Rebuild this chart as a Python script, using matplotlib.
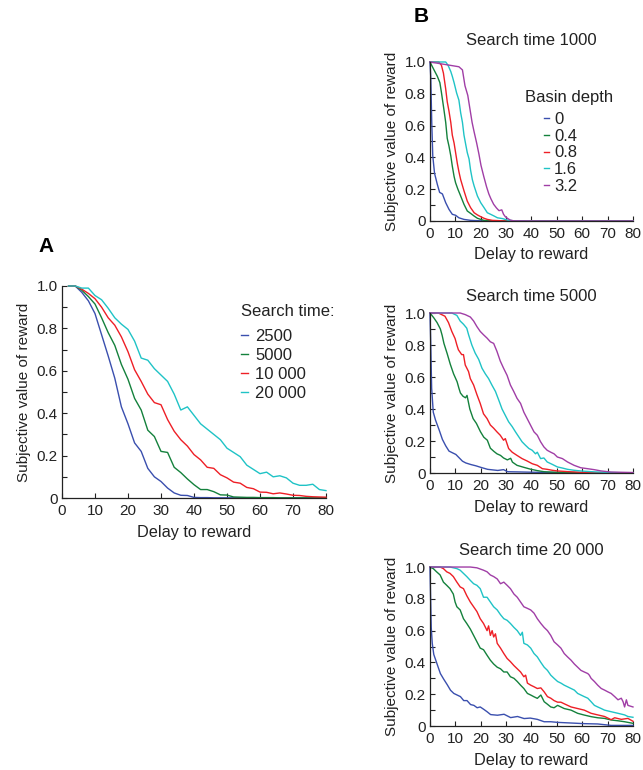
import matplotlib
matplotlib.use("Agg")
import matplotlib.pyplot as plt
from matplotlib.ticker import MultipleLocator, FixedLocator, FixedFormatter

plt.rcParams['font.family'] = ['Liberation Sans', 'DejaVu Sans']

# ---------------- Panel A data ----------------
a_delay = [2, 4, 6, 8, 10, 12, 14, 16, 18, 20, 22, 24, 26, 28, 30, 32, 34, 36, 38, 40,
           42, 44, 46, 48, 50, 52, 54, 56, 58, 60, 62, 64, 66, 68, 70, 72, 74, 76, 78, 80]
a_labels = ["2500", "5000", "10 000", "20 000"]
a_2500 = [1.0, 1.0, 0.97, 0.93, 0.87, 0.77, 0.67, 0.565, 0.43, 0.35, 0.26, 0.22, 0.14, 0.10, 0.078, 0.047, 0.024, 0.013, 0.012, 0.003,
          0.002, 0.002, 0.001, 0.001, 0.001, 0.001, 0.001, 0, 0, 0, 0, 0, 0, 0, 0, 0, 0, 0, 0, 0]
a_5000 = [1.0, 1.0, 0.98, 0.95, 0.915, 0.85, 0.78, 0.72, 0.63, 0.56, 0.47, 0.415, 0.32, 0.29, 0.22, 0.215, 0.145, 0.12, 0.09, 0.063,
          0.04, 0.04, 0.03, 0.015, 0.014, 0.005, 0.004, 0.003, 0.003, 0.002, 0.002, 0.002, 0.001, 0.001, 0.001, 0.001, 0.001, 0.001, 0.001, 0.001]
a_10000 = [1.0, 1.0, 0.985, 0.965, 0.94, 0.90, 0.85, 0.815, 0.76, 0.69, 0.605, 0.55, 0.49, 0.45, 0.44, 0.37, 0.315, 0.275, 0.245, 0.205,
           0.18, 0.145, 0.14, 0.11, 0.095, 0.075, 0.07, 0.05, 0.044, 0.028, 0.027, 0.02, 0.024, 0.019, 0.013, 0.012, 0.008, 0.006, 0.005, 0.004]
a_20000 = [1.0, 1.0, 0.99, 0.99, 0.955, 0.935, 0.895, 0.85, 0.82, 0.795, 0.74, 0.66, 0.65, 0.61, 0.58, 0.55, 0.49, 0.415, 0.43, 0.39,
           0.35, 0.325, 0.30, 0.275, 0.235, 0.215, 0.195, 0.155, 0.135, 0.115, 0.122, 0.10, 0.105, 0.095, 0.07, 0.06, 0.06, 0.065, 0.04, 0.035]

# ---------------- Panel B data ----------------
b_titles = ["Search time 1000", "Search time 5000", "Search time 20 000"]
b_labels = ["0", "0.4", "0.8", "1.6", "3.2"]

# Search time 1000
b1_d0_x = [0, 0.3, 0.7, 1.1, 1.8, 2.9, 3.8, 4.9, 6.2, 7.5, 8.8, 10.1, 11.4, 13.4, 16, 20, 30, 40, 50, 60, 70, 80]
b1_d0_y = [1.0, 0.91, 0.62, 0.41, 0.30, 0.23, 0.18, 0.17, 0.115, 0.073, 0.042, 0.036, 0.02, 0.01, 0.004, 0.001, 0, 0, 0, 0, 0, 0]
b1_d04_x = [0, 1.6, 2.9, 3.9, 4.5, 5.5, 6.2, 6.8, 7.5, 8.2, 8.8, 9.5, 10.1, 11, 12.1, 13.4, 14.7, 16, 17.4, 18.7, 20, 21.3, 24, 30, 40, 50, 60, 70, 80]
b1_d04_y = [1.0, 0.95, 0.91, 0.87, 0.81, 0.70, 0.62, 0.52, 0.47, 0.41, 0.345, 0.28, 0.24, 0.20, 0.157, 0.105, 0.063, 0.048, 0.031, 0.017, 0.01, 0.004, 0.001, 0, 0, 0, 0, 0, 0]
b1_d08_x = [0, 3.5, 4.5, 5.3, 6.2, 6.8, 7.5, 8.2, 8.8, 9.5, 10.1, 10.8, 11.4, 12.1, 13.4, 14.7, 16, 17.4, 18.7, 20, 21.3, 22.6, 24.6, 30, 40, 50, 60, 70, 80]
b1_d08_y = [1.0, 1.0, 0.98, 0.93, 0.83, 0.75, 0.69, 0.62, 0.54, 0.49, 0.43, 0.36, 0.31, 0.26, 0.19, 0.125, 0.084, 0.052, 0.038, 0.027, 0.017, 0.01, 0.004, 0, 0, 0, 0, 0, 0]
b1_d16_x = [0, 6.2, 7.1, 8.2, 8.8, 9.5, 10.5, 11.4, 12.1, 12.8, 13.4, 14.1, 14.7, 15.4, 16, 16.7, 17.4, 18.7, 20, 21.3, 22.6, 23.9, 25.3, 26.6, 28.6, 30.5, 33, 40, 50, 60, 70, 80]
b1_d16_y = [1.0, 1.0, 0.98, 0.94, 0.91, 0.87, 0.805, 0.76, 0.68, 0.62, 0.54, 0.48, 0.43, 0.39, 0.32, 0.26, 0.22, 0.157, 0.115, 0.084, 0.052, 0.042, 0.031, 0.02, 0.015, 0.006, 0.001, 0, 0, 0, 0, 0]
b1_d32_x = [0, 11.4, 12.8, 13.8, 14.9, 15.8, 16.6, 17.4, 18.4, 19.3, 20.1, 21.2, 22.3, 23.2, 24.0, 25.1, 26.2, 27.2, 28.3, 29.0, 29.7, 30.5, 31.6, 33, 40, 50, 60, 70, 80]
b1_d32_y = [1.0, 0.97, 0.95, 0.85, 0.79, 0.70, 0.62, 0.56, 0.49, 0.42, 0.35, 0.28, 0.215, 0.17, 0.14, 0.105, 0.082, 0.065, 0.07, 0.042, 0.027, 0.017, 0.006, 0.001, 0, 0, 0, 0, 0]

# Search time 5000
b2_d0_x = [0, 0.26, 0.66, 1.3, 2.2, 3.6, 4.9, 6.2, 7.5, 8.9, 10.2, 11.5, 12.8, 14.1, 16.1, 18.1, 20.1, 22.7, 26.7, 29, 30.6, 34.3, 40, 50, 60, 70, 80]
b2_d0_y = [1.0, 0.84, 0.53, 0.38, 0.33, 0.27, 0.21, 0.17, 0.137, 0.126, 0.116, 0.095, 0.074, 0.063, 0.053, 0.045, 0.035, 0.023, 0.016, 0.021, 0.008, 0.007, 0.005, 0.003, 0.002, 0.001, 0.001]
b2_d04_x = [0, 1.5, 2.8, 4.1, 4.8, 5.5, 6.8, 8.0, 9.3, 10.7, 11.4, 12.0, 13.0, 14.0, 14.6, 15.7, 17.0, 18.3, 19.9, 21.2, 22.6, 23.8, 25.2, 26.4, 27.8, 29.0, 30.5, 31.8, 32.5, 34.3, 37.1, 39.6, 42.3, 45.0, 49, 55, 60, 70, 80]
b2_d04_y = [1.0, 0.97, 0.94, 0.90, 0.86, 0.81, 0.745, 0.68, 0.62, 0.57, 0.53, 0.50, 0.48, 0.47, 0.485, 0.40, 0.34, 0.31, 0.258, 0.224, 0.205, 0.155, 0.135, 0.12, 0.11, 0.094, 0.082, 0.092, 0.068, 0.048, 0.035, 0.024, 0.015, 0.008, 0.005, 0.003, 0.002, 0.001, 0.001]
b2_d08_x = [0, 3.3, 4.6, 5.9, 7.3, 8.6, 9.9, 10.6, 11.2, 12.5, 13.2, 13.9, 15.2, 15.9, 17.2, 18.5, 19.8, 21.1, 22.5, 23.8, 25.1, 26.4, 27.7, 29, 29.7, 31, 32.4, 34.3, 36.3, 38.3, 40.3, 42.3, 44.3, 46.2, 48.2, 50.2, 55, 60, 65, 70, 80]
b2_d08_y = [1.0, 1.0, 0.99, 0.98, 0.94, 0.885, 0.84, 0.80, 0.77, 0.74, 0.74, 0.675, 0.634, 0.59, 0.55, 0.49, 0.435, 0.37, 0.34, 0.30, 0.28, 0.257, 0.236, 0.205, 0.215, 0.153, 0.13, 0.11, 0.09, 0.075, 0.058, 0.048, 0.027, 0.023, 0.017, 0.013, 0.008, 0.004, 0.002, 0.001, 0.001]
b2_d16_x = [0, 8.6, 10.6, 11.9, 13.2, 14.5, 15.2, 16.5, 17.8, 19.2, 20.5, 21.8, 23.1, 24.4, 25.8, 27.1, 28.4, 29.7, 31, 32.4, 33.7, 35, 36.3, 37.6, 39, 40.3, 41.6, 42.3, 43.6, 44.9, 46.2, 48.2, 50.2, 52.2, 54.2, 56.8, 60, 65, 70, 75, 80]
b2_d16_y = [1.0, 1.0, 0.985, 0.95, 0.93, 0.905, 0.865, 0.80, 0.75, 0.71, 0.655, 0.62, 0.59, 0.55, 0.51, 0.456, 0.40, 0.36, 0.32, 0.29, 0.257, 0.226, 0.195, 0.174, 0.153, 0.142, 0.12, 0.13, 0.09, 0.094, 0.069, 0.054, 0.038, 0.031, 0.023, 0.017, 0.012, 0.007, 0.004, 0.002, 0.002]
b2_d32_x = [0, 11.9, 13.9, 15.9, 17.2, 18.5, 19.8, 21.1, 22.5, 23.8, 25.1, 26.4, 27.7, 29, 30.4, 31.7, 33, 34.3, 35.7, 37, 38.3, 39.6, 41, 42.3, 43.6, 44.9, 46.2, 47.6, 48.9, 50.2, 52.2, 54.2, 56.8, 59.4, 62.1, 64.7, 67.4, 71.3, 80]
b2_d32_y = [1.0, 1.0, 0.99, 0.975, 0.95, 0.915, 0.885, 0.864, 0.843, 0.82, 0.81, 0.76, 0.70, 0.655, 0.61, 0.55, 0.51, 0.467, 0.435, 0.38, 0.34, 0.30, 0.257, 0.236, 0.195, 0.163, 0.142, 0.13, 0.12, 0.10, 0.09, 0.069, 0.048, 0.033, 0.027, 0.021, 0.013, 0.006, 0.003]

# Search time 20 000
b3_d0_x = [0, 0.26, 0.5, 0.9, 1.5, 2.8, 4.1, 5.4, 6.8, 8.1, 9.4, 10.7, 12.0, 13.3, 14.6, 16.0, 17.3, 18.6, 19.8, 21.2, 22.5, 23.9, 26.6, 29.2, 31.8, 34.5, 37.1, 39.5, 42.3, 45, 47.6, 50.3, 55.6, 60.8, 66.1, 71.4, 80]
b3_d0_y = [1.0, 0.80, 0.62, 0.52, 0.45, 0.39, 0.33, 0.295, 0.26, 0.225, 0.205, 0.195, 0.185, 0.16, 0.16, 0.135, 0.13, 0.115, 0.12, 0.105, 0.09, 0.072, 0.068, 0.074, 0.053, 0.06, 0.047, 0.05, 0.042, 0.027, 0.027, 0.023, 0.019, 0.015, 0.013, 0.004, 0.004]
b3_d04_x = [0, 1.3, 2.6, 4, 5.3, 6.6, 7.9, 9.2, 9.9, 10.6, 11.9, 13.2, 14.5, 15.9, 17.2, 18.5, 19.8, 21.1, 22.5, 23.8, 25.1, 26.5, 27.8, 29.1, 30.4, 31.7, 33.1, 34.4, 35.7, 37, 38.4, 39.7, 41, 42.3, 43.7, 45, 46.3, 47.6, 48.9, 50.3, 51.6, 52.9, 55.6, 58.2, 60.8, 63.5, 66.1, 68.8, 71.4, 74.1, 76.7, 80]
b3_d04_y = [1.0, 0.99, 0.97, 0.95, 0.905, 0.885, 0.864, 0.83, 0.78, 0.75, 0.73, 0.675, 0.645, 0.61, 0.57, 0.53, 0.49, 0.48, 0.445, 0.414, 0.39, 0.37, 0.36, 0.34, 0.34, 0.31, 0.30, 0.28, 0.257, 0.236, 0.205, 0.195, 0.184, 0.174, 0.195, 0.153, 0.137, 0.12, 0.115, 0.13, 0.12, 0.11, 0.10, 0.08, 0.069, 0.059, 0.052, 0.048, 0.038, 0.033, 0.027, 0.017]
b3_d08_x = [0, 4, 5.3, 6.6, 7.9, 9.2, 10.6, 11.9, 13.2, 14.5, 15.9, 17.2, 18.5, 19.8, 21.1, 22.5, 23.1, 23.8, 24.5, 25.1, 25.8, 26.5, 27.8, 29.1, 30.4, 31.7, 33.1, 34.4, 35.7, 37, 37.7, 38.4, 39.7, 41, 42.3, 43.7, 45, 46.3, 47.6, 48.9, 50.3, 51.6, 52.9, 55.6, 58.2, 60.8, 63.5, 66.1, 68.8, 71.4, 72.8, 75.4, 78, 80]
b3_d08_y = [1.0, 1.0, 0.99, 0.97, 0.96, 0.94, 0.905, 0.875, 0.864, 0.82, 0.78, 0.75, 0.72, 0.675, 0.645, 0.60, 0.63, 0.57, 0.60, 0.56, 0.58, 0.52, 0.49, 0.456, 0.425, 0.405, 0.38, 0.36, 0.34, 0.31, 0.32, 0.27, 0.257, 0.247, 0.236, 0.24, 0.215, 0.185, 0.175, 0.16, 0.15, 0.15, 0.14, 0.12, 0.11, 0.10, 0.08, 0.07, 0.06, 0.04, 0.052, 0.042, 0.048, 0.03]
b3_d16_x = [0, 7.9, 10.6, 11.9, 13.2, 14.5, 15.9, 17.2, 18.5, 19.8, 21.1, 22.5, 23.8, 25.1, 26.5, 27.8, 29.1, 30.4, 31.7, 33.1, 34.4, 35.7, 36.4, 37, 38.4, 39.7, 41, 42.3, 43.7, 45, 46.3, 47.6, 48.9, 50.3, 51.6, 52.9, 54.2, 55.6, 56.9, 58.2, 59.5, 60.8, 62.2, 63.5, 64.8, 66.1, 67.5, 68.8, 71.4, 74.1, 76.7, 78, 80]
b3_d16_y = [1.0, 1.0, 0.99, 0.98, 0.96, 0.94, 0.916, 0.895, 0.885, 0.864, 0.81, 0.81, 0.78, 0.75, 0.73, 0.70, 0.675, 0.665, 0.645, 0.62, 0.60, 0.57, 0.59, 0.52, 0.51, 0.49, 0.456, 0.435, 0.40, 0.37, 0.35, 0.32, 0.30, 0.28, 0.27, 0.257, 0.247, 0.236, 0.226, 0.205, 0.195, 0.185, 0.175, 0.153, 0.13, 0.12, 0.11, 0.10, 0.09, 0.08, 0.07, 0.06, 0.055]
b3_d32_x = [0, 15.9, 18.5, 21.1, 22.5, 23.8, 25.1, 26.5, 27.8, 29.1, 30.4, 31.7, 33.1, 34.4, 35.7, 37, 38.4, 39.7, 41, 42.3, 43.7, 45, 46.3, 47.6, 48.9, 50.3, 51.6, 52.9, 54.2, 55.6, 56.9, 58.2, 59.5, 60.8, 62.2, 62.8, 63.5, 64.8, 66.1, 67.5, 68.8, 70.1, 71.4, 72.8, 74.1, 75.4, 76.1, 76.7, 77.4, 78, 80]
b3_d32_y = [1.0, 1.0, 0.995, 0.98, 0.97, 0.95, 0.94, 0.925, 0.895, 0.905, 0.885, 0.864, 0.83, 0.81, 0.78, 0.75, 0.74, 0.73, 0.71, 0.675, 0.645, 0.62, 0.60, 0.57, 0.53, 0.51, 0.49, 0.456, 0.435, 0.414, 0.39, 0.37, 0.35, 0.34, 0.33, 0.32, 0.30, 0.28, 0.257, 0.236, 0.226, 0.215, 0.205, 0.185, 0.165, 0.175, 0.153, 0.12, 0.165, 0.13, 0.12]

# ---------------- Styling ----------------
colors = ["#3a4fae", "#14813c", "#ee1f26", "#1fc3c6", "#a03ea6"]
TXT = "#222222"
FS_TICK = 11
FS_XLAB = 11.7
FS_YLAB = 11
FS_TITLE = 12
FS_LEG = 12


def style_axes(ax):
    ax.set_xlim(0, 80)
    ax.set_ylim(0, 1)
    for s in ("top", "right"):
        ax.spines[s].set_visible(False)
    for s in ("left", "bottom"):
        ax.spines[s].set_linewidth(0.9)
        ax.spines[s].set_color(TXT)
    ax.xaxis.set_major_locator(MultipleLocator(10))
    ax.yaxis.set_major_locator(FixedLocator([0, 0.2, 0.4, 0.6, 0.8, 1.0]))
    ax.yaxis.set_major_formatter(FixedFormatter(["0", "0.2", "0.4", "0.6", "0.8", "1.0"]))
    ax.yaxis.set_minor_locator(MultipleLocator(0.1))
    ax.tick_params(axis="both", which="both", direction="in", length=3.5, width=0.8,
                   labelsize=FS_TICK, colors=TXT, labelcolor=TXT, pad=3)
    ax.tick_params(axis="x", which="major", pad=4)
    ax.tick_params(axis="x", which="minor", length=0)
    ax.set_xlabel("Delay to reward", fontsize=FS_XLAB, color=TXT, labelpad=5)
    ax.set_ylabel("Subjective value of reward", fontsize=FS_YLAB, color=TXT, labelpad=4)


def add_legend(ax, title, tx, ty, lx, ly, hl, htp, ls):
    ax.text(tx, ty, title, transform=ax.transAxes, fontsize=FS_LEG, color=TXT, ha="left", va="center")
    leg = ax.legend(loc="upper left", bbox_to_anchor=(lx, ly), frameon=False, fontsize=FS_LEG,
                    handlelength=hl, handletextpad=htp, labelspacing=ls,
                    borderaxespad=0, borderpad=0)
    for t in leg.get_texts():
        t.set_color(TXT)
    return leg


fig = plt.figure(figsize=(6.43, 7.70), dpi=100)

# Panel A
axA = fig.add_axes([0.0964, 0.3532, 0.4106, 0.2754])
a_series = [a_2500, a_5000, a_10000, a_20000]
for ys, c, lab in zip(a_series, colors[:4], a_labels):
    axA.plot(a_delay, ys, color=c, lw=1.0, label=lab, clip_on=False)
style_axes(axA)
add_legend(axA, "Search time:", 0.678, 0.878, 0.678, 0.796, 0.42, 0.42, 0.23)

# Panel B
b_rects = [[0.6687, 0.7130, 0.3157, 0.2065],
           [0.6687, 0.3857, 0.3157, 0.2078],
           [0.6687, 0.0571, 0.3157, 0.2065]]
b_pads = [12, 9, 9]
b_data = [
    [(b1_d0_x, b1_d0_y), (b1_d04_x, b1_d04_y), (b1_d08_x, b1_d08_y), (b1_d16_x, b1_d16_y), (b1_d32_x, b1_d32_y)],
    [(b2_d0_x, b2_d0_y), (b2_d04_x, b2_d04_y), (b2_d08_x, b2_d08_y), (b2_d16_x, b2_d16_y), (b2_d32_x, b2_d32_y)],
    [(b3_d0_x, b3_d0_y), (b3_d04_x, b3_d04_y), (b3_d08_x, b3_d08_y), (b3_d16_x, b3_d16_y), (b3_d32_x, b3_d32_y)],
]
for i, (rect, series, title, pad) in enumerate(zip(b_rects, b_data, b_titles, b_pads)):
    ax = fig.add_axes(rect)
    for (xs, ys), c, lab in zip(series, colors, b_labels):
        ax.plot(xs, ys, color=c, lw=1.0, label=lab, clip_on=False)
    style_axes(ax)
    ax.set_title(title, fontsize=FS_TITLE, color=TXT, pad=pad)
    if i == 0:
        add_legend(ax, "Basin depth", 0.468, 0.774, 0.56, 0.685, 0.32, 0.3, 0.1)

fig.text(38 / 643, 1 - 246 / 770, "A", fontsize=15, fontweight="bold", ha="left", va="center")
fig.text(414 / 643, 1 - 17 / 770, "B", fontsize=15, fontweight="bold", ha="left", va="center")

fig.savefig("out.png", dpi=100)
